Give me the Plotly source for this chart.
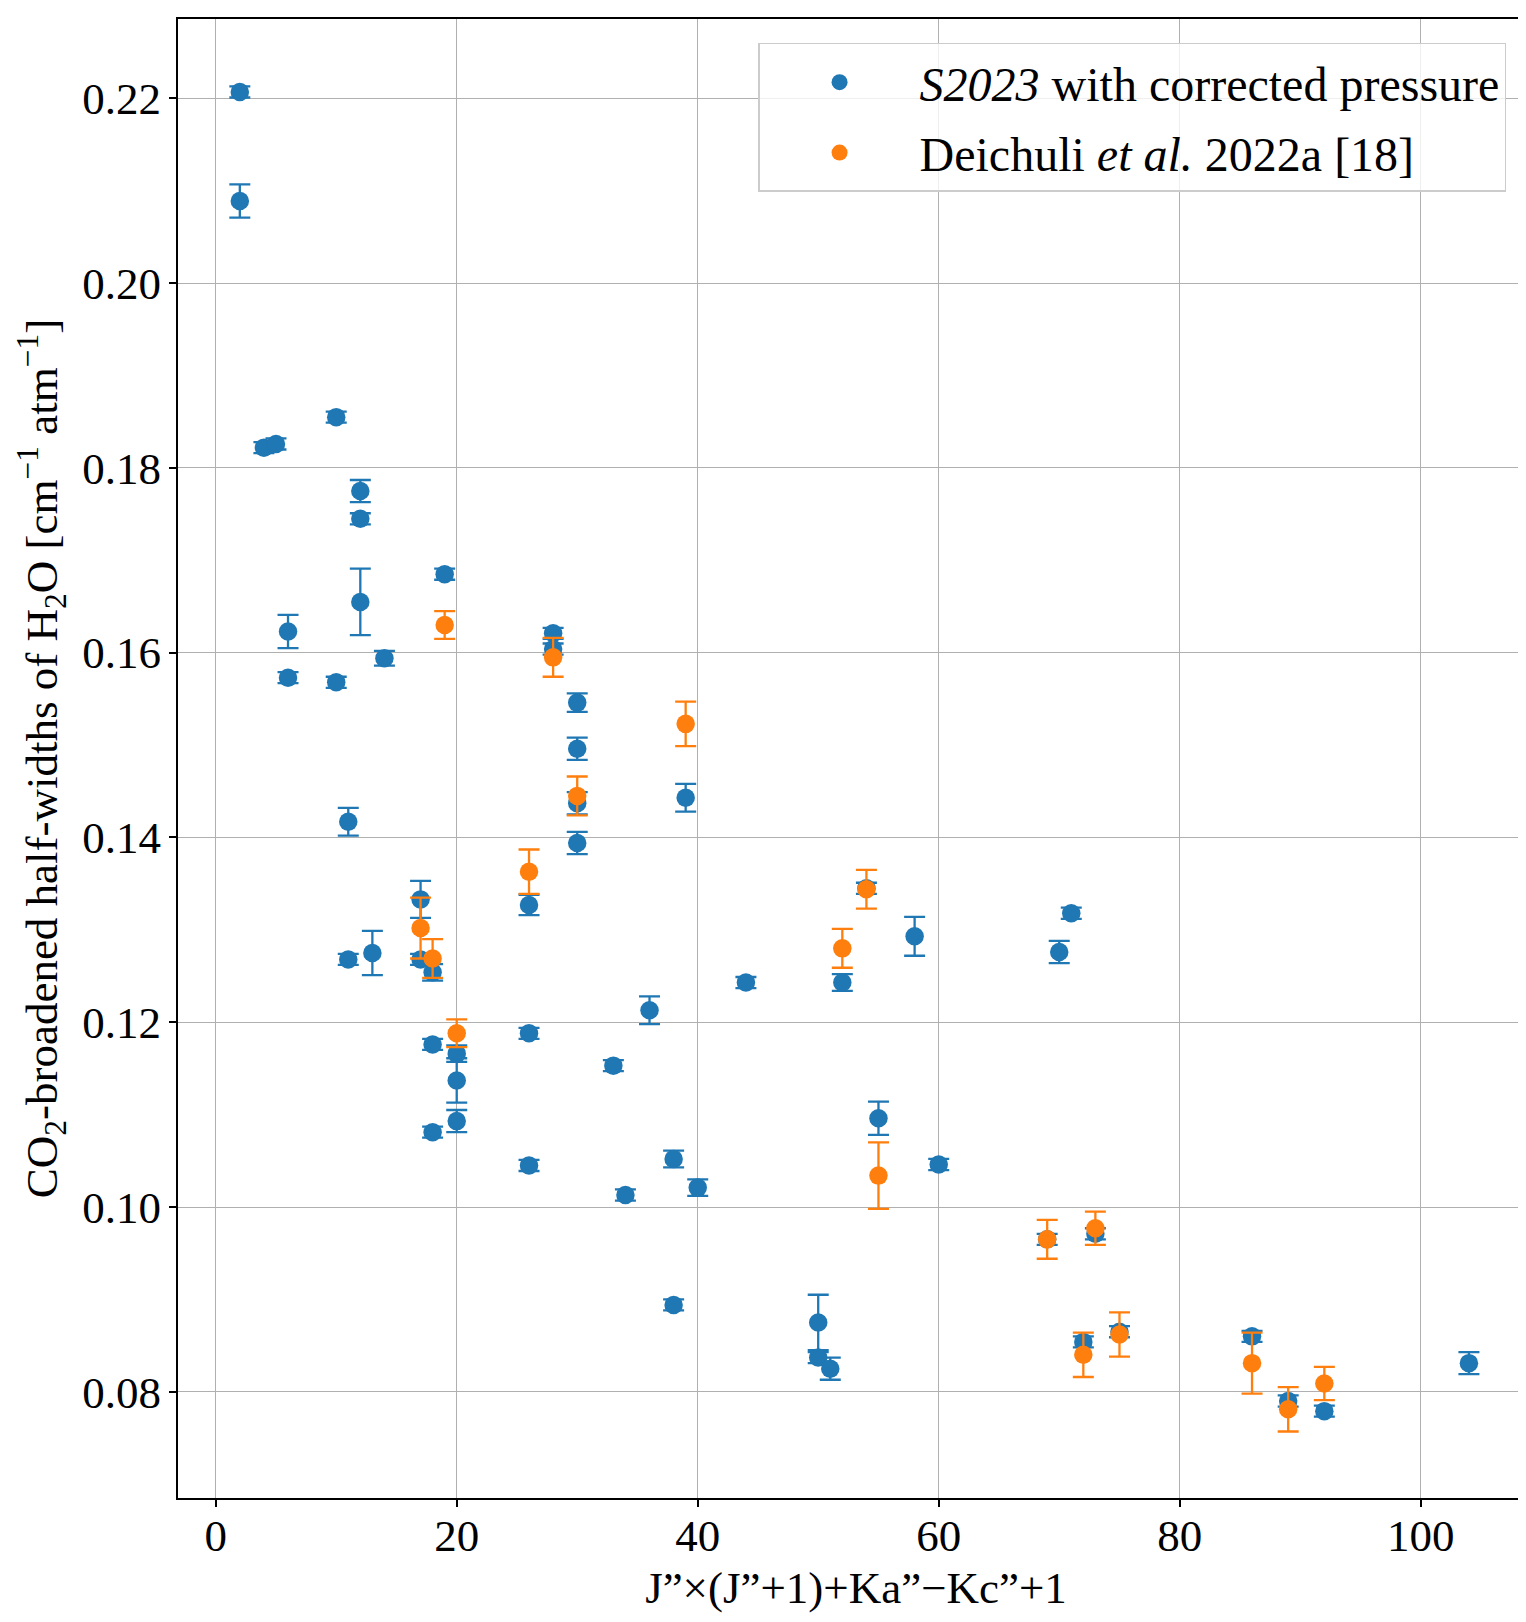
import plotly.graph_objects as go

# S2023 with corrected pressure
s_x = [2, 2, 4, 5, 10, 12, 12, 12, 19, 6, 6, 10, 14, 28, 28, 30, 30, 30, 30, 11,
       26, 17, 17, 18, 11, 13, 18, 20, 20, 20, 18, 26, 26, 33, 36, 34, 38, 38, 39, 40,
       44, 52, 54, 58, 71, 70, 55, 60, 50, 50, 51, 69, 73, 72, 75, 86, 89, 92, 104]
s_y = [0.2207, 0.2089, 0.1822, 0.1826, 0.1855, 0.1775, 0.1745, 0.1655, 0.1685, 0.1623,
       0.1573, 0.1568, 0.1594, 0.1621, 0.1604, 0.1546, 0.1496, 0.1437, 0.1394, 0.1417,
       0.1327, 0.1333, 0.1268, 0.1254, 0.1268, 0.1275, 0.1176, 0.1166, 0.1137, 0.1093,
       0.1081, 0.1188, 0.1045, 0.1153, 0.1213, 0.1013, 0.1052, 0.0894, 0.1443, 0.1021,
       0.1243, 0.1243, 0.1345, 0.1293, 0.1318, 0.1276, 0.1096, 0.1046, 0.0875, 0.0837,
       0.0825, 0.0965, 0.0971, 0.0854, 0.0865, 0.0860, 0.0790, 0.0779, 0.0831]
s_err = [0.0006, 0.0018, 0.0006, 0.0006, 0.0006, 0.0012, 0.0006, 0.0036, 0.0006, 0.0018,
         0.0006, 0.0006, 0.0008, 0.0006, 0.0006, 0.0010, 0.0012, 0.0012, 0.0012, 0.0015,
         0.0011, 0.0020, 0.0006, 0.0009, 0.0006, 0.0024, 0.0006, 0.0009, 0.0024, 0.0012,
         0.0006, 0.0006, 0.0006, 0.0006, 0.0015, 0.0006, 0.0009, 0.0006, 0.0015, 0.0009,
         0.0006, 0.0009, 0.0006, 0.0021, 0.0006, 0.0012, 0.0018, 0.0006, 0.0030, 0.0006,
         0.0012, 0.0006, 0.0006, 0.0006, 0.0006, 0.0006, 0.0006, 0.0006, 0.0012]

# Deichuli et al. 2022a [18]
d_x = [19, 28, 30, 26, 17, 18, 20, 39, 52, 54, 55, 69, 73, 72, 75, 86, 89, 92]
d_y = [0.1630, 0.1595, 0.1445, 0.1363, 0.1302, 0.1269, 0.1188, 0.1523, 0.1280, 0.1344,
       0.1034, 0.0965, 0.0977, 0.0840, 0.0862, 0.0831, 0.0781, 0.0809]
d_err = [0.0015, 0.0021, 0.0021, 0.0024, 0.0033, 0.0021, 0.0015, 0.0024, 0.0021, 0.0021,
         0.0036, 0.0021, 0.0018, 0.0024, 0.0024, 0.0033, 0.0024, 0.0018]

x_ticks = [0, 20, 40, 60, 80, 100]
y_ticks = [0.08, 0.10, 0.12, 0.14, 0.16, 0.18, 0.20, 0.22]

BLUE = "#1f77b4"
ORANGE = "#ff7f0e"
FONT = "Liberation Serif"

fig = go.Figure()
fig.add_trace(go.Scatter(
    x=s_x, y=s_y, mode="markers",
    name="<i>S2023</i> with corrected pressure",
    legendgroup="a",
    marker=dict(color=BLUE, size=18.5, line=dict(width=0)),
    error_y=dict(type="data", array=s_err, color=BLUE, thickness=2.3, width=10.5),
))
fig.add_trace(go.Scatter(
    x=d_x, y=d_y, mode="markers",
    name="Deichuli <i>et al.</i> 2022a [18]",
    legendgroup="b",
    marker=dict(color=ORANGE, size=18.5, line=dict(width=0)),
    error_y=dict(type="data", array=d_err, color=ORANGE, thickness=2.3, width=10.5),
))

fig.update_layout(
    width=1526, height=1622,
    margin=dict(l=170, r=0, t=11, b=132),
    paper_bgcolor="white", plot_bgcolor="white",
    font=dict(family=FONT, size=45, color="black"),
    legend=dict(
        x=0.9794, y=0.9838, xanchor="right", yanchor="top",
        bgcolor="rgba(255,255,255,0.8)", bordercolor="#cccccc", borderwidth=1.5,
        font=dict(family=FONT, size=48, color="black"),
        traceorder="grouped", tracegroupgap=5,
        itemsizing="trace", itemwidth=150,
    ),
    showlegend=True,
)
fig.update_xaxes(
    range=[-3.13, 109.40],
    tickvals=x_ticks, ticktext=[str(v) for v in x_ticks],
    showgrid=True, gridcolor="#b0b0b0", gridwidth=1.4,
    zeroline=False,
    showline=True, linecolor="black", linewidth=2, mirror=True,
    ticks="outside", ticklen=7, tickwidth=1.6, tickcolor="black",
    tickfont=dict(family=FONT, size=45),
    ticklabelstandoff=-10,
    title=dict(text="J”×(J”+1)+Ka”−Kc”+1", font=dict(family=FONT, size=45), standoff=11),
    automargin=False,
)
fig.update_yaxes(
    range=[0.0685, 0.2286],
    tickvals=y_ticks, ticktext=[f"{v:.2f}" for v in y_ticks],
    showgrid=True, gridcolor="#b0b0b0", gridwidth=1.4,
    zeroline=False,
    showline=True, linecolor="black", linewidth=2, mirror=False,
    ticks="outside", ticklen=7, tickwidth=1.6, tickcolor="black",
    tickfont=dict(family=FONT, size=45),
    ticklabelstandoff=-1,
    title=dict(text="CO<sub>2</sub>-broadened half-widths of H<sub>2</sub>O [cm<sup>−1</sup> atm<sup>−1</sup>]",
               font=dict(family=FONT, size=45), standoff=11),
    automargin=False,
)

fig.write_html("out.html")
